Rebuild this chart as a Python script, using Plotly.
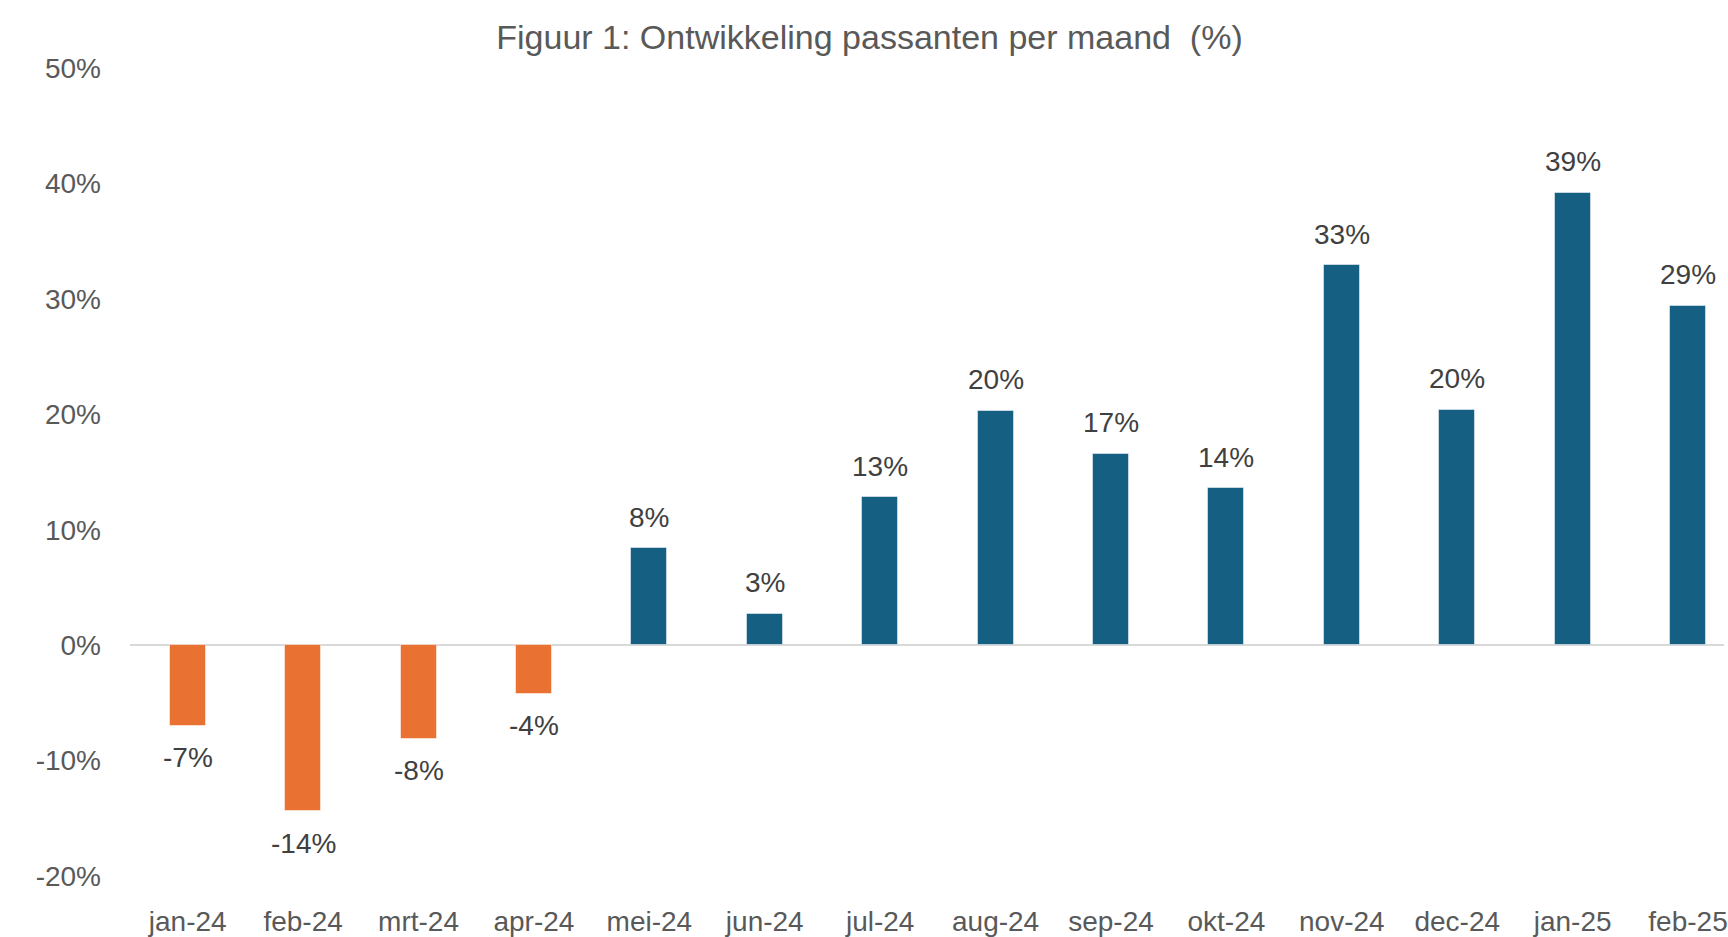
import plotly.graph_objects as go

months = ["jan-24", "feb-24", "mrt-24", "apr-24", "mei-24", "jun-24", "jul-24",
          "aug-24", "sep-24", "okt-24", "nov-24", "dec-24", "jan-25", "feb-25"]
values = [-0.070, -0.144, -0.081, -0.042, 0.084, 0.027, 0.128,
          0.203, 0.166, 0.136, 0.329, 0.204, 0.392, 0.294]
y_ticks = [-0.2, -0.1, 0.0, 0.1, 0.2, 0.3, 0.4, 0.5]
y_ticktext = ["-20%", "-10%", "0%", "10%", "20%", "30%", "40%", "50%"]

ORANGE = "#E97132"
BLUE = "#156082"
colors = [ORANGE if v < 0 else BLUE for v in values]
FONT = "Liberation Sans, Arial, sans-serif"

fig = go.Figure()
fig.add_trace(go.Bar(
    x=list(range(len(months))), y=values,
    marker=dict(color=colors, line=dict(color="rgba(255,255,255,0.5)", width=1)),
    width=0.312, hoverinfo="skip",
))

for i, v in enumerate(values):
    fig.add_annotation(
        x=i, y=v, text=f"{round(v * 100)}%", showarrow=False,
        yshift=31 if v >= 0 else -32, yanchor="middle", xanchor="center",
        font=dict(family=FONT, size=28, color="#404040"),
    )

fig.update_layout(
    width=1728, height=937,
    margin=dict(l=130, r=0, t=68, b=57),
    paper_bgcolor="white", plot_bgcolor="white",
    showlegend=False,
    title=dict(text="Figuur 1: Ontwikkeling passanten per maand  (%)",
               x=869.5 / 1728, xanchor="center", xref="container",
               y=1 - 37.5 / 937, yanchor="middle", yref="container",
               font=dict(family=FONT, size=34, color="#595959")),
    xaxis=dict(
        tickmode="array", tickvals=list(range(len(months))), ticktext=months,
        range=[-0.5, -0.5 + (1728 - 130) / 115.7],
        showgrid=False, showline=False, zeroline=False, ticks="",
        ticklabelstandoff=26, ticklabeloverflow="allow",
        tickfont=dict(family=FONT, size=28, color="#595959"),
    ),
    yaxis=dict(
        range=[-0.2, 0.5], tickmode="array", tickvals=y_ticks, ticktext=y_ticktext,
        showgrid=False, showline=False, ticks="",
        zeroline=True, zerolinecolor="#d9d9d9", zerolinewidth=2,
        ticklabelstandoff=28,
        tickfont=dict(family=FONT, size=28, color="#595959"),
    ),
    bargap=0,
)

fig.write_html(
    "out.html",
    config={"displayModeBar": False},
    post_script="document.body.style.margin='0';document.body.style.overflow='hidden';",
)
